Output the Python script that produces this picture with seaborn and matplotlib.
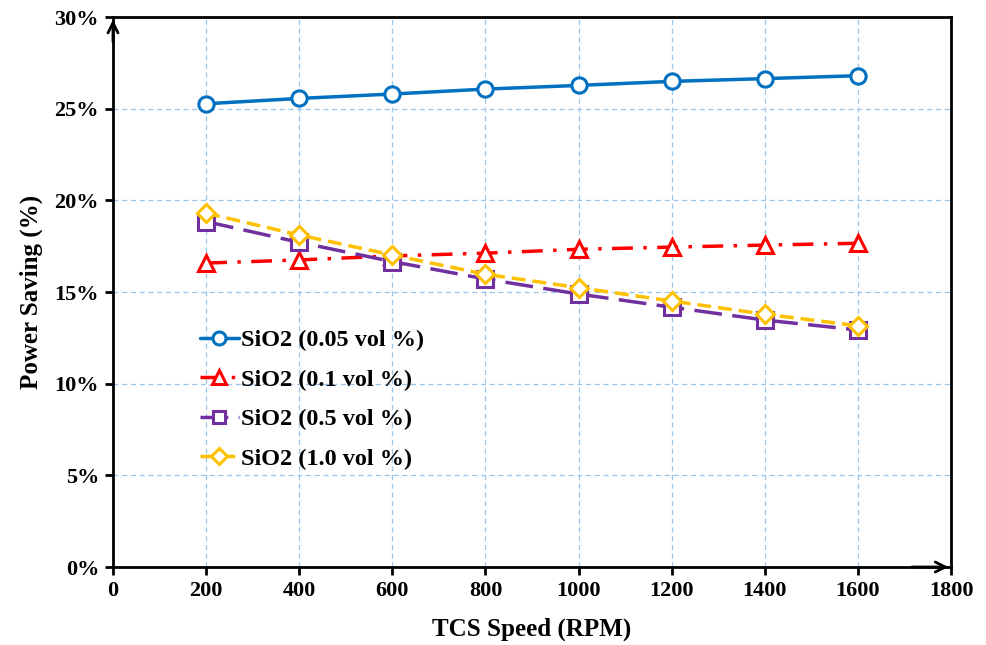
import matplotlib
matplotlib.use("Agg")
import matplotlib.pyplot as plt
import seaborn as sns
import numpy as np
import pandas as pd
from matplotlib.ticker import FuncFormatter, MultipleLocator

speed = [200, 400, 600, 800, 1000, 1200, 1400, 1600]
sio2_005 = [25.27, 25.56, 25.80, 26.07, 26.27, 26.49, 26.64, 26.80]
sio2_01 = [16.58, 16.75, 16.97, 17.12, 17.33, 17.45, 17.56, 17.66]
sio2_05 = [18.84, 17.71, 16.66, 15.71, 14.89, 14.17, 13.47, 12.93]
sio2_10 = [19.30, 18.11, 17.02, 15.97, 15.24, 14.51, 13.79, 13.16]

labels = ["SiO2 (0.05 vol %)", "SiO2 (0.1 vol %)", "SiO2 (0.5 vol %)", "SiO2 (1.0 vol %)"]
series = [sio2_005, sio2_01, sio2_05, sio2_10]
colors = ["#0070C0", "#FF0000", "#7030A0", "#FFC000"]
markers = ["o", "^", "s", "D"]
dashes = ["-", (0, (6, 3, 1, 3)), (0, (8, 3)), (0, (4, 2))]
msizes = [11, 12, 11, 9]

sns.set_style("white")
plt.rcParams["font.family"] = ["Liberation Serif", "DejaVu Serif"]
plt.rcParams["font.weight"] = "bold"
plt.rcParams["text.color"] = "black"
plt.rcParams["axes.labelcolor"] = "black"

fig = plt.figure(figsize=(9.86, 6.45), dpi=100)
ax = fig.add_axes([0.1146, 0.1209, 0.85, 0.8527])

for vals, lab, c, m, ls, ms in zip(series, labels, colors, markers, dashes, msizes):
    df = pd.DataFrame({"speed": speed, "saving": vals})
    sns.lineplot(data=df, x="speed", y="saving", ax=ax, color=c, marker=m,
                 linestyle=ls, linewidth=2.5, markersize=ms, markerfacecolor="white",
                 markeredgecolor=c, markeredgewidth=2.2, label=lab, zorder=3)

ax.set_xlim(0, 1800)
ax.set_ylim(0, 30)
ax.xaxis.set_major_locator(MultipleLocator(200))
ax.yaxis.set_major_locator(MultipleLocator(5))
ax.yaxis.set_major_formatter(FuncFormatter(lambda v, p: f"{v:.0f}%"))
ax.grid(True, color="#9DC3E6", linestyle=(0, (4, 3)), linewidth=0.9)
ax.set_axisbelow(True)
for s in ax.spines.values():
    s.set_color("black")
    s.set_linewidth(2)
ax.tick_params(axis="both", direction="out", length=6, width=2, colors="black",
               labelsize=16, pad=4, left=True, bottom=True)
for t in ax.get_xticklabels() + ax.get_yticklabels():
    t.set_fontweight("bold")

# axis arrows
ax.annotate("", xy=(0, 1.0), xycoords="axes fraction", xytext=(0, 0.95),
            arrowprops=dict(arrowstyle="->", color="black", lw=2, mutation_scale=18))
ax.annotate("", xy=(1.0, 0), xycoords="axes fraction", xytext=(0.95, 0),
            arrowprops=dict(arrowstyle="->", color="black", lw=2, mutation_scale=18))

ax.set_xlabel("TCS Speed (RPM)", fontsize=18, fontweight="bold", labelpad=12, color="black")
ax.set_ylabel("Power Saving (%)", fontsize=18, fontweight="bold", labelpad=8, color="black")

leg = ax.legend(loc="upper left", bbox_to_anchor=(0.092, 0.45), frameon=False,
                prop={"size": 17.5, "weight": "bold"}, handlelength=1.6,
                handletextpad=0.1, labelspacing=0.72, borderaxespad=0, markerscale=0.85)
for t in leg.get_texts():
    t.set_color("black")

fig.savefig("out.png", dpi=100)
